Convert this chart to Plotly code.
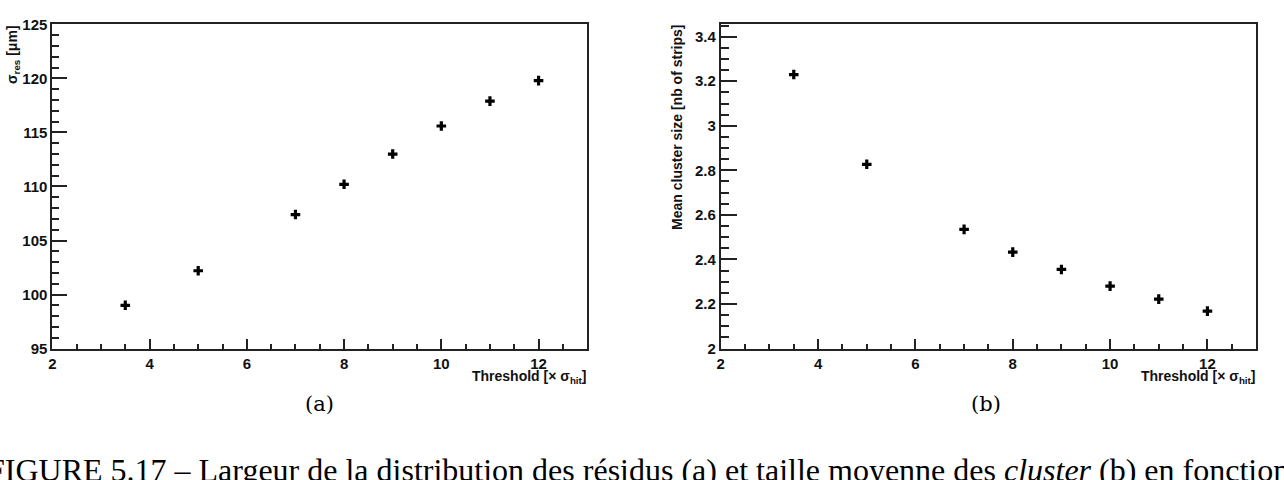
import plotly.graph_objects as go

# Data
thresholds = [3.5, 5, 7, 8, 9, 10, 11, 12]
sigma_res = [99.0, 102.2, 107.4, 110.2, 113.0, 115.6, 117.9, 119.8]
cluster_size = [3.23, 2.827, 2.535, 2.433, 2.355, 2.28, 2.222, 2.168]

W, H = 1284, 480
def px(x): return x / W
def py(y): return 1 - y / H

fig = go.Figure()
mk = dict(symbol="cross", size=8, color="black", line=dict(width=0))
fig.add_trace(go.Scatter(x=thresholds, y=sigma_res, mode="markers", marker=mk,
                         xaxis="x", yaxis="y", showlegend=False))
fig.add_trace(go.Scatter(x=thresholds, y=cluster_size, mode="markers", marker=mk,
                         xaxis="x2", yaxis="y2", showlegend=False))

tickfont = dict(family="Liberation Sans, Arial", size=15, color="#111", weight="bold")
common = dict(showline=True, linecolor="#222", linewidth=2, mirror=True,
              showgrid=False, zeroline=False, ticks="inside", tickcolor="#222",
              tickwidth=2, tickfont=tickfont)

fig.update_layout(
    width=W, height=H, margin=dict(l=0, r=0, t=0, b=0),
    paper_bgcolor="white", plot_bgcolor="white",
    xaxis=dict(domain=[px(48.5), px(585)], range=[2, 13], dtick=2, tick0=2,
               ticklen=10, anchor="y",
               minor=dict(ticks="inside", dtick=0.5, ticklen=5, tickcolor="#222", tickwidth=1.5),
               **common),
    yaxis=dict(domain=[py(352), py(16)], range=[95, 125], dtick=5, tick0=95,
               ticklen=15, anchor="x",
               minor=dict(ticks="inside", dtick=1, ticklen=7, tickcolor="#222", tickwidth=1.5),
               **common),
    xaxis2=dict(domain=[px(719), px(1256)], range=[2, 13], dtick=2, tick0=2,
                ticklen=10, anchor="y2",
                minor=dict(ticks="inside", dtick=0.5, ticklen=5, tickcolor="#222", tickwidth=1.5),
                **common),
    yaxis2=dict(domain=[py(352), py(16)], range=[2, 3.455], dtick=0.2, tick0=2,
                ticklen=16, anchor="x2",
                minor=dict(ticks="inside", dtick=0.05, ticklen=8, tickcolor="#222", tickwidth=1.5),
                **common),
)

tfont = dict(family="Liberation Sans, Arial", size=14, color="#111", weight="bold")
ann = [
    dict(text="Threshold [× σ<sub>hit</sub>]", x=px(587), y=py(381), xanchor="right",
         yanchor="middle", font=tfont),
    dict(text="Threshold [× σ<sub>hit</sub>]", x=px(1258), y=py(381), xanchor="right",
         yanchor="middle", font=tfont),
    dict(text="σ<sub>res</sub> [μm]", x=px(9), y=py(14), xanchor="center",
         yanchor="top", textangle=-90, font=tfont),
    dict(text="Mean cluster size [nb of strips]", x=px(675), y=py(14), xanchor="center",
         yanchor="top", textangle=-90, font=tfont),
    dict(text="(a)", x=px(316), y=py(409), xanchor="center", yanchor="middle",
         font=dict(family="DejaVu Serif, Liberation Serif", size=21, color="black")),
    dict(text="(b)", x=px(985), y=py(409), xanchor="center", yanchor="middle",
         font=dict(family="DejaVu Serif, Liberation Serif", size=21, color="black")),
    dict(text="FIGURE 5.17 – Largeur de la distribution des résidus (a) et taille moyenne des <i>cluster</i> (b) en fonction du seuil",
         x=px(-19), y=py(457), xanchor="left", yanchor="top",
         font=dict(family="Liberation Serif, DejaVu Serif", size=32, color="black")),
]
for a in ann:
    a.update(xref="paper", yref="paper", showarrow=False)
fig.update_layout(annotations=ann)

fig.write_html("out.html")
